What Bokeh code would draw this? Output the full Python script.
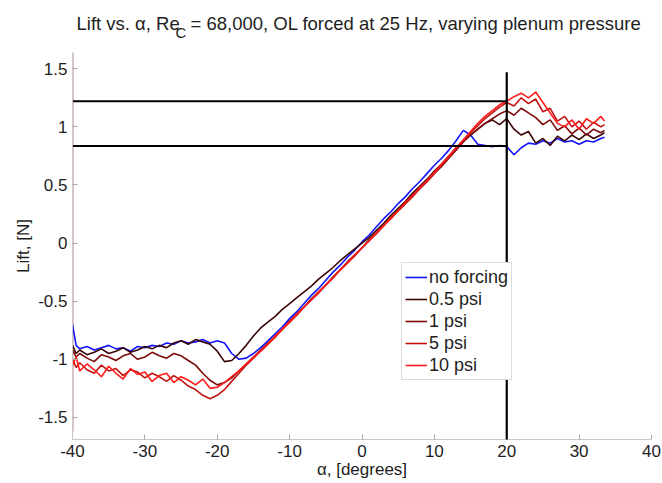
from bokeh.plotting import figure
from bokeh.layouts import column
from bokeh.models import Label, Range1d, FixedTicker
from bokeh.embed import file_html
from bokeh.resources import INLINE

# ---------------- data ----------------
alpha = [-40, -39.5] + list(range(-39, 34)) + [33.5]

no_forcing = [-0.70, -0.88,
              -0.91, -0.89, -0.92, -0.90, -0.88, -0.91, -0.90, -0.93, -0.89, -0.90,
              -0.88, -0.89, -0.86, -0.87, -0.84, -0.86, -0.85, -0.83, -0.86, -0.84,
              -0.86, -0.95, -1.00, -0.99, -0.95, -0.90, -0.84, -0.78, -0.72, -0.65,
              -0.59, -0.52, -0.45, -0.39, -0.32, -0.25, -0.19, -0.12, -0.06, 0.01,
              0.07, 0.14, 0.21, 0.27, 0.34, 0.40, 0.47, 0.53, 0.60, 0.67,
              0.73, 0.80, 0.88, 0.97, 0.93, 0.85, 0.84, 0.83, 0.84, 0.83,
              0.76, 0.82, 0.86, 0.85, 0.88, 0.86, 0.90, 0.87, 0.88, 0.85,
              0.88, 0.87, 0.90,
              0.91]

psi_0_5 = [-0.88, -0.95,
           -0.92, -0.96, -0.94, -0.91, -0.95, -0.93, -0.90, -0.94, -0.92, -0.89,
           -0.91, -0.88, -0.90, -0.86, -0.84, -0.87, -0.83, -0.85, -0.87, -0.93,
           -1.02, -1.01, -0.95, -0.88, -0.80, -0.73, -0.68, -0.63, -0.57, -0.52,
           -0.47, -0.42, -0.37, -0.31, -0.26, -0.21, -0.15, -0.10, -0.05, 0.00,
           0.05, 0.11, 0.17, 0.24, 0.30, 0.36, 0.43, 0.49, 0.55, 0.62,
           0.68, 0.75, 0.82, 0.88, 0.93, 0.98, 1.03, 1.06, 1.02, 1.07,
           0.98, 0.93, 0.96, 0.86, 0.90, 0.84, 0.92, 0.88, 0.93, 0.89,
           0.94, 0.90, 0.93,
           0.95]

psi_1 = [-0.92, -0.98,
         -0.95, -0.99, -1.02, -0.96, -0.98, -1.01, -0.97, -0.95, -1.00, -0.98,
         -0.94, -0.97, -0.99, -0.95, -0.97, -1.01, -1.05, -1.12, -1.18, -1.22,
         -1.20, -1.16, -1.10, -1.04, -0.98, -0.92, -0.86, -0.80, -0.74, -0.67,
         -0.61, -0.55, -0.48, -0.42, -0.36, -0.29, -0.23, -0.16, -0.10, -0.04,
         0.03, 0.09, 0.15, 0.22, 0.28, 0.34, 0.41, 0.47, 0.53, 0.60,
         0.66, 0.73, 0.80, 0.87, 0.93, 0.98, 1.03, 1.07, 1.11, 1.14,
         1.10, 1.16, 1.12, 1.08, 1.02, 1.06, 0.97, 1.01, 0.94, 0.99,
         0.93, 0.98, 0.95,
         0.97]

psi_5 = [-1.00, -1.07,
         -1.03, -1.09, -1.12, -1.05, -1.10, -1.08, -1.14, -1.09, -1.11, -1.16,
         -1.12, -1.15, -1.19, -1.14, -1.18, -1.23, -1.26, -1.31, -1.34, -1.31,
         -1.26, -1.19, -1.12, -1.05, -0.99, -0.93, -0.87, -0.81, -0.74, -0.68,
         -0.62, -0.55, -0.49, -0.43, -0.36, -0.30, -0.23, -0.17, -0.11, -0.04,
         0.02, 0.08, 0.15, 0.21, 0.28, 0.34, 0.40, 0.47, 0.53, 0.60,
         0.67, 0.74, 0.81, 0.88, 0.95, 1.01, 1.07, 1.12, 1.17, 1.21,
         1.18, 1.25, 1.20, 1.24, 1.13, 1.16, 1.05, 1.09, 1.00, 1.05,
         0.98, 1.04, 1.00,
         1.02]

psi_10 = [-1.05, -0.98,
          -1.10, -1.04, -1.09, -1.15, -1.06, -1.12, -1.17, -1.08, -1.13, -1.11,
          -1.19, -1.14, -1.12, -1.20, -1.15, -1.18, -1.22, -1.17, -1.25, -1.24,
          -1.20, -1.15, -1.10, -1.04, -0.98, -0.93, -0.87, -0.80, -0.74, -0.68,
          -0.61, -0.55, -0.49, -0.42, -0.36, -0.30, -0.23, -0.17, -0.10, -0.04,
          0.02, 0.09, 0.15, 0.22, 0.28, 0.35, 0.41, 0.48, 0.54, 0.61,
          0.68, 0.75, 0.82, 0.89, 0.96, 1.03, 1.09, 1.14, 1.19, 1.22,
          1.26, 1.29, 1.25, 1.30, 1.21, 1.12, 1.03, 1.00, 1.06, 0.98,
          1.07, 1.03, 1.09,
          1.05]

series_names = ["no forcing", "0.5 psi", "1 psi", "5 psi", "10 psi"]
series_values = [no_forcing, psi_0_5, psi_1, psi_5, psi_10]
series_colors = ["#1414ff", "#3c0606", "#7c0a0a", "#c21212", "#ff1c1c"]

ref_lift_levels = [1.22, 0.835]   # horizontal reference lines
ref_alpha = 20                     # vertical reference line
ref_vline_top = 1.47
edge_alpha = -40
edge_span = [-1.62, 1.64]

x_ticks = [-40, -30, -20, -10, 0, 10, 20, 30, 40]
y_ticks = [-1.5, -1, -0.5, 0, 0.5, 1, 1.5]
y_tick_labels = ["-1.5", "-1", "-0.5", "0", "0.5", "1", "1.5"]
x_range = (-40, 40)
y_range = (-1.69, 1.64)

title_parts = ["Lift vs. α, Re", "C", "= 68,000, OL forced at 25 Hz, varying plenum pressure"]

FONT = "Liberation Sans"
TXT = "#1e1e1e"
W = 662
TITLE_H = 44
MAIN_H = 483 - TITLE_H
BL, BR = 72, 11          # left / right borders, shared by both rows

for s in series_values:
    assert len(s) == len(alpha)

# ---------------- title strip (pixel coordinates) ----------------
t = figure(width=W, height=TITLE_H, x_range=Range1d(BL, W - BR), y_range=Range1d(TITLE_H, 0),
           output_backend="svg", toolbar_location=None,
           x_axis_location=None, y_axis_location=None,
           min_border_left=BL, min_border_right=BR, min_border_top=0, min_border_bottom=0)
t.outline_line_color = None
t.grid.visible = False
t.add_layout(Label(x=76, y=23, text=title_parts[0], text_align="left",
                   text_baseline="alphabetic", text_font=FONT, text_font_size="18.5px",
                   text_color=TXT))
t.add_layout(Label(x=175, y=32, text=title_parts[1], text_align="left",
                   text_baseline="alphabetic", text_font=FONT, text_font_size="15px",
                   text_color=TXT))
t.add_layout(Label(x=190, y=23, text=title_parts[2], text_align="left",
                   text_baseline="alphabetic", text_font=FONT, text_font_size="18.5px",
                   text_color=TXT))

# ---------------- main plot ----------------
p = figure(width=W, height=MAIN_H, x_range=Range1d(*x_range), y_range=Range1d(*y_range),
           output_backend="svg", toolbar_location=None,
           min_border_left=BL, min_border_right=BR, min_border_top=8, min_border_bottom=44)
p.outline_line_color = None
p.grid.visible = False
p.background_fill_color = "white"
p.border_fill_color = "white"

# pink edge line at alpha = -40
p.line([edge_alpha, edge_alpha], edge_span, line_color="#d88890", line_width=2)

for name, vals, col in zip(series_names, series_values, series_colors):
    p.line(alpha, vals, line_color=col, line_width=1.6, legend_label=name)

p.segment(x0=[x_range[0]] * len(ref_lift_levels), x1=[ref_alpha] * len(ref_lift_levels),
          y0=ref_lift_levels, y1=ref_lift_levels, line_color="black", line_width=2)
vl = p.segment(x0=[ref_alpha], x1=[ref_alpha], y0=[y_range[0]], y1=[ref_vline_top],
               line_color="black", line_width=2.2)
vl.level = "overlay"

# axes
for ax in (p.xaxis[0], p.yaxis[0]):
    ax.axis_line_color = "#c8c8c8"
    ax.major_tick_line_color = "#a8a8a8"
    ax.major_tick_in = 5
    ax.major_tick_out = 0
    ax.minor_tick_line_color = None
    ax.major_label_text_font = FONT
    ax.major_label_text_font_size = "17px"
    ax.major_label_text_color = TXT
    ax.axis_label_text_font = FONT
    ax.axis_label_text_font_size = "17px"
    ax.axis_label_text_font_style = "normal"
    ax.axis_label_text_color = TXT
    ax.axis_label_standoff = 0

p.xaxis.ticker = FixedTicker(ticks=x_ticks)
p.xaxis.major_label_overrides = {v: str(v) for v in x_ticks}
p.xaxis.major_label_standoff = 5
p.xaxis.axis_label = "α, [degrees]"
p.yaxis.ticker = FixedTicker(ticks=y_ticks)
p.yaxis.major_label_overrides = dict(zip(y_ticks, y_tick_labels))
p.yaxis.major_label_standoff = 5
p.yaxis.axis_label = "Lift, [N]"
p.yaxis.axis_label_standoff = 2

# legend
lg = p.legend[0]
lg.location = (329, 59)
lg.label_text_font = FONT
lg.label_text_font_size = "18px"
lg.label_text_color = TXT
lg.glyph_width = 22
lg.glyph_height = 22
lg.label_height = 22
lg.label_standoff = 2
lg.spacing = 0
lg.padding = 3
lg.margin = 0
lg.border_line_color = "#b8b8b8"
lg.border_line_width = 1
lg.background_fill_color = "white"
lg.background_fill_alpha = 1

layout = column(t, p, spacing=0)
open("out.html", "w").write(file_html(layout, INLINE))
